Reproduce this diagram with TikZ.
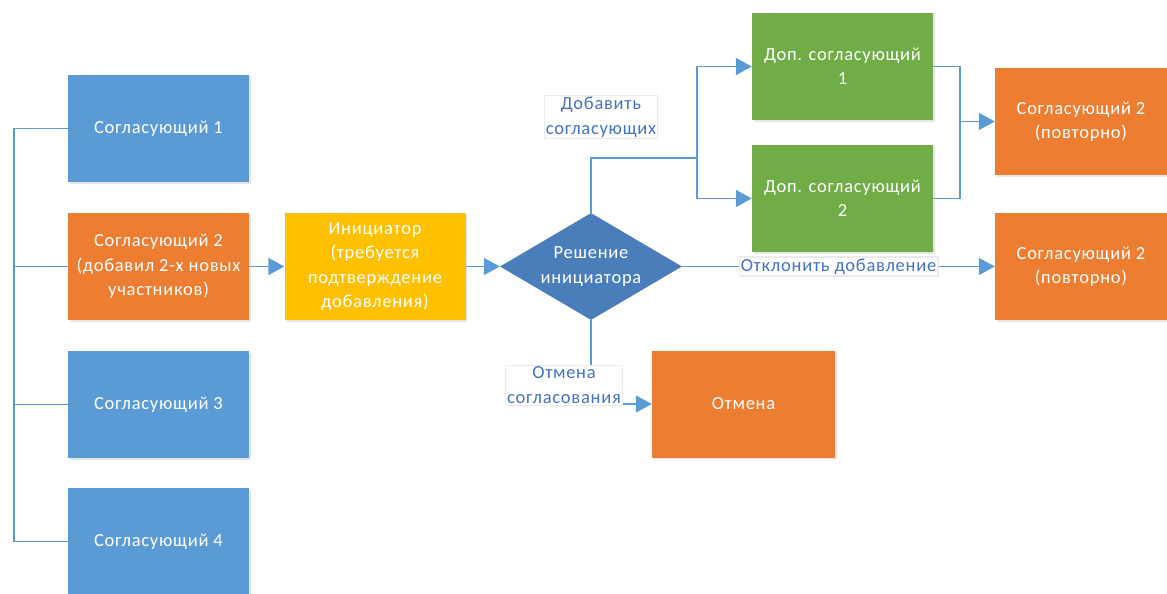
\documentclass[tikz,border=0pt]{standalone}
\usepackage{fontspec}
\setmainfont{Carlito}[LetterSpace=4]
\usepackage{xcolor}
\usetikzlibrary{arrows.meta,shapes.geometric,shadows}
\definecolor{cB}{HTML}{5B9BD5}
\definecolor{cO}{HTML}{ED7D31}
\definecolor{cY}{HTML}{FFC000}
\definecolor{cG}{HTML}{70AD47}
\definecolor{cD}{HTML}{4A7EBB}
\definecolor{cT}{HTML}{4472C4}
\newcommand{\boxfont}{\fontsize{18.5}{24.5}\selectfont}
\tikzset{
  box/.style={rectangle,minimum width=181pt,minimum height=107pt,inner sep=0pt,text=white,align=center,font=\boxfont,
    drop shadow={shadow xshift=1.5pt,shadow yshift=-1.5pt,opacity=0.2}},
  decide/.style={diamond,fill=cD,minimum width=182pt,minimum height=107pt,inner sep=0pt,text=white,align=center,font=\boxfont},
  link/.style={cB,line width=1.5pt},
  go/.style={link,-{Triangle[length=16pt,width=17pt]}},
  tag/.style={fill=white,draw=black!8,text=cT,align=center,font=\boxfont,inner sep=1.5pt}}
\begin{document}
\begin{tikzpicture}[x=1pt,y=-1pt]
  \useasboundingbox (0,0) rectangle (1167,594);
  \clip (0,0) rectangle (1167,594);
  % the approvers
  \foreach \i/\y in {1/128.5,3/404.5,4/541.5} \node[box,fill=cB] (s\i) at (158.5,\y) {Согласующий \i};
  \node[box,fill=cO] (s2) at (158.5,266.5) {Согласующий 2\\(добавил 2-х новых\\участников)};
  \coordinate (bustop) at (14,128.5); \coordinate (busbot) at (14,541.5);
  \draw[link] (s1.west) -- (bustop) -- (busbot) -- (s4.west);
  \foreach \n in {s2,s3} \draw[link] (\n.west) -- (\n.west -| bustop);
  % initiator and his decision
  \node[box,fill=cY] (init) at (375,266.5) {Инициатор\\(требуется\\подтверждение\\добавления)};
  \node[decide] (dec) at (591,266.5) {\makebox[0pt]{Решение}\\\makebox[0pt]{инициатора}};
  \draw[go] (s2) -- (init);
  \draw[go] (init) -- (dec);
  % extra approvers
  \node[box,fill=cG] (dop1) at (842.5,66.5) {Доп. согласующий\\1};
  \node[box,fill=cG] (dop2) at (842.5,198.5) {Доп. согласующий\\2};
  \node[box,fill=cO,minimum width=172pt] (rep1) at (1081,121.5) {Согласующий 2\\(повторно)};
  \node[box,fill=cO,minimum width=172pt] (rep2) at (1081,266.5) {Согласующий 2\\(повторно)};
  \node[box,fill=cO,minimum width=183pt] (cancel) at (743.5,404) {Отмена};
  \coordinate (split) at (697,158);
  \coordinate (join) at (960,121.5);
  \draw[link] (dec.north) |- (split);
  \draw[go] (split) |- (dop1.west);
  \draw[go] (split) |- (dop2.west);
  \draw[link] (dop1.east) -| (join) (dop2.east) -| (join);
  \draw[go] (join) -- (rep1);
  \draw[go] (dec.east) -- node[tag] (reject) {Отклонить добавление} (rep2.west);
  \draw[go] (dec.south) |- (cancel.west);
  % branch labels
  \node[tag] (addtag) at (601,117) {Добавить\\согласующих};
  \node[tag] (canceltag) at (564,385) {Отмена\\согласования};
\end{tikzpicture}
\end{document}
